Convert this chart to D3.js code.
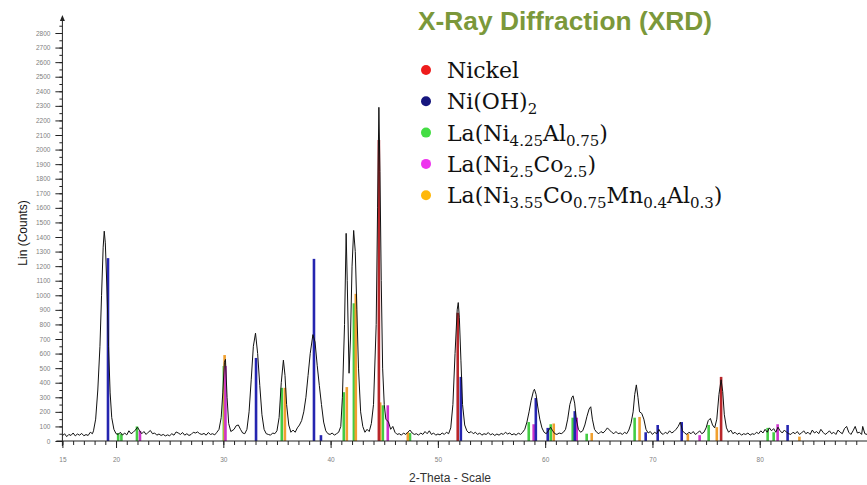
<!DOCTYPE html>
<html>
<head>
<meta charset="utf-8">
<script src="https://cdn.jsdelivr.net/npm/d3@7/dist/d3.min.js"></script>
<style>
	body { margin: 0; background: #fff; }
	svg { display: block; }
	.tick text { font-family: "Liberation Sans", Arial, sans-serif; fill: #808080; }
	.tick line { stroke: #222; }
</style>
</head>
<body>
<svg id="chart" width="867" height="485"></svg>
<script>
//measured scan: [2-theta, counts]
var scan = [
	[15.0,35],[15.2,50],[15.4,30],[15.6,45],[15.8,38],[16.0,55],[16.2,35],[16.4,48],[16.6,40],[16.8,52],
	[17.0,36],[17.2,44],[17.4,38],[17.6,60],[17.8,50],[17.9,70],[18.1,150],[18.3,350],[18.5,650],[18.65,1000],
	[18.8,1330],[18.9,1440],[19.0,1360],[19.15,1050],[19.3,650],[19.45,330],[19.6,160],[19.8,80],[20.0,50],
	[20.2,45],[20.4,60],[20.6,40],[20.8,55],[21.0,42],[21.2,70],[21.4,50],[21.6,60],[21.8,75],[22.0,95],
	[22.2,70],[22.4,50],[22.6,65],[22.8,45],[23.0,60],[23.2,72],[23.4,50],[23.6,55],[23.8,40],[24.0,48],
	[24.2,38],[24.4,45],[24.6,35],[24.8,42],[25.0,36],[25.2,50],[25.4,40],[25.6,62],[25.8,55],[26.0,45],
	[26.2,58],[26.4,40],[26.6,50],[26.8,38],[27.0,45],[27.2,60],[27.4,55],[27.6,62],[27.8,50],[28.0,45],
	[28.2,52],[28.4,40],[28.6,58],[28.8,45],[29.0,50],[29.2,42],[29.4,60],[29.6,80],[29.8,160],[29.95,330],
	[30.1,540],[30.2,560],[30.35,300],[30.5,120],[30.7,65],[31.0,80],[31.2,105],[31.4,110],[31.6,80],[31.8,55],
	[32.0,50],[32.2,80],[32.4,200],[32.6,420],[32.8,650],[33.0,740],[33.2,600],[33.4,380],[33.6,180],[33.8,80],
	[34.0,50],[34.2,45],[34.4,40],[34.6,55],[34.8,50],[35.0,70],[35.2,160],[35.4,400],[35.6,555],[35.75,450],
	[35.9,250],[36.1,110],[36.3,60],[36.5,75],[36.7,60],[36.9,90],[37.1,110],[37.3,140],[37.5,200],[37.7,300],
	[37.9,450],[38.1,600],[38.35,730],[38.55,680],[38.75,520],[38.95,380],[39.15,250],[39.35,130],[39.55,70],
	[39.75,50],[39.95,45],[40.15,55],[40.35,40],[40.55,50],[40.75,60],[40.95,100],[41.1,300],[41.3,800],
	[41.45,1425],[41.55,1100],[41.72,465],[41.85,700],[42.0,1200],[42.15,1445],[42.3,1300],[42.45,900],
	[42.6,500],[42.8,200],[43.0,100],[43.2,60],[43.4,80],[43.6,65],[43.8,120],[44.0,250],[44.25,800],
	[44.38,1600],[44.5,2290],[44.6,1850],[44.72,1100],[44.85,500],[45.0,250],[45.15,150],[45.4,130],[45.6,80],
	[45.8,100],[46.0,60],[46.2,45],[46.4,50],[46.6,40],[46.8,55],[47.0,45],[47.2,60],[47.4,75],[47.6,55],
	[47.8,45],[48.0,50],[48.2,40],[48.4,55],[48.6,45],[48.8,65],[49.0,50],[49.2,70],[49.4,45],[49.6,55],
	[49.8,40],[50.0,48],[50.2,42],[50.4,55],[50.6,45],[50.8,60],[51.0,50],[51.2,90],[51.4,250],[51.6,600],
	[51.8,900],[51.9,950],[52.0,850],[52.15,550],[52.3,250],[52.5,110],[52.7,70],[52.9,55],[53.1,65],[53.3,50],
	[53.5,60],[53.7,45],[53.9,55],[54.1,40],[54.3,50],[54.5,45],[54.7,58],[54.9,42],[55.1,50],[55.3,38],
	[55.5,48],[55.7,40],[55.9,52],[56.1,45],[56.3,60],[56.5,48],[56.7,55],[56.9,42],[57.1,50],[57.3,40],
	[57.5,55],[57.7,45],[57.9,60],[58.1,80],[58.3,130],[58.5,200],[58.7,280],[58.9,340],[59.0,355],[59.15,320],
	[59.3,240],[59.5,150],[59.7,90],[59.9,60],[60.1,50],[60.3,70],[60.5,95],[60.7,70],[60.9,50],[61.1,45],
	[61.3,55],[61.5,50],[61.7,60],[61.9,80],[62.1,150],[62.3,250],[62.5,300],[62.6,310],[62.75,260],[62.9,150],
	[63.1,80],[63.3,60],[63.5,70],[63.7,110],[63.9,170],[64.1,220],[64.25,235],[64.4,150],[64.6,80],[64.8,60],
	[65.0,50],[65.2,65],[65.4,55],[65.6,70],[65.8,90],[66.0,75],[66.2,60],[66.4,50],[66.6,65],[66.8,50],
	[67.0,55],[67.2,45],[67.4,60],[67.6,50],[67.8,75],[68.0,120],[68.2,200],[68.35,320],[68.5,385],[68.65,300],
	[68.8,200],[69.0,190],[69.2,150],[69.4,80],[69.6,55],[69.8,65],[70.0,45],[70.2,60],[70.4,50],[70.6,80],
	[70.8,55],[71.0,45],[71.2,60],[71.4,50],[71.6,70],[71.8,55],[72.0,65],[72.2,80],[72.4,100],[72.6,130],
	[72.8,70],[73.0,55],[73.2,45],[73.4,60],[73.6,50],[73.8,65],[74.0,45],[74.2,55],[74.4,70],[74.6,50],
	[74.8,60],[75.0,90],[75.2,140],[75.4,155],[75.6,110],[75.8,90],[76.0,150],[76.2,320],[76.4,420],[76.55,340],
	[76.7,180],[76.9,90],[77.1,60],[77.3,75],[77.5,50],[77.7,60],[77.9,45],[78.1,55],[78.3,40],[78.5,50],
	[78.7,45],[78.9,55],[79.1,40],[79.3,50],[79.5,45],[79.7,60],[79.9,50],[80.1,70],[80.3,55],[80.5,80],
	[80.7,60],[80.9,90],[81.1,70],[81.3,85],[81.5,60],[81.7,95],[81.9,70],[82.1,55],[82.3,75],[82.5,60],
	[82.7,50],[82.9,45],[83.1,60],[83.3,50],[83.5,65],[83.7,45],[83.9,55],[84.1,70],[84.3,50],[84.5,60],
	[84.7,45],[84.9,75],[85.1,55],[85.3,65],[85.5,50],[85.7,80],[85.9,60],[86.1,45],[86.3,55],[86.5,70],
	[86.7,50],[86.9,60],[87.1,45],[87.3,75],[87.5,60],[87.7,50],[87.9,85],[88.1,100],[88.3,60],[88.5,45],
	[88.7,70],[88.9,100],[89.1,55],[89.3,60],[89.5,45],[89.6,100],[89.8,50],[90.0,45]
];

//reference stick patterns: [2-theta, intensity]
var nickelSticks = [[44.5,2065],[51.85,880],[76.4,440]];
var niOH2Sticks = [[19.25,1255],[33.05,570],[38.45,1250],[39.1,40],[52.14,440],[59.13,295],[60.24,90],
	[62.76,205],[69.37,60],[70.49,110],[72.73,130],[82.6,110]];
var laNiAlSticks = [[20.2,55],[20.5,50],[21.95,100],[30.05,515],[35.45,365],[41.23,335],[42.17,945],
	[44.87,245],[47.4,55],[58.47,130],[60.52,115],[62.57,160],[63.87,50],[68.34,160],[75.24,110],[80.74,90],[81.3,60]];
var laNiCoSticks = [[22.23,70],[30.2,515],[45.33,245],[58.93,115],[62.94,160],[74.4,40],[81.67,115]];
var laNiCoMnAlSticks = [[30.12,590],[35.74,365],[41.51,370],[42.35,1010],[44.62,265],[47.2,60],[60.8,120],
	[64.34,55],[68.8,165],[73.3,50],[76.0,95],[83.7,30]];

var phaseColors = ["#ee1c1c", "#16167e", "#44dd44", "#ee33ee", "#ffb80a"];
var stickColors = ["#b8262a", "#2525b0", "#44cc44", "#cc33cc", "#f0a030"];
//legend labels: [text, subscript?]
var phaseLabels = [
	[["Nickel", false]],
	[["Ni(OH)", false], ["2", true]],
	[["La(Ni", false], ["4.25", true], ["Al", false], ["0.75", true], [")", false]],
	[["La(Ni", false], ["2.5", true], ["Co", false], ["2.5", true], [")", false]],
	[["La(Ni", false], ["3.55", true], ["Co", false], ["0.75", true], ["Mn", false], ["0.4", true], ["Al", false], ["0.3", true], [")", false]]
];

var xTickLabels = [15, 20, 30, 40, 50, 60, 70, 80];
var xMinorTicks = d3.range(15, 90, 1);
var yTickLabels = [0,100,200,300,400,500,600,700,800,900,1000,1100,1200,1300,1400,1500,1600,1700,1800,1900,2000,2100,2200,2300,2400,2500,2600,2700,2800];
var yMinorTicks = d3.range(0, 2851, 50);

var svg = d3.select("#chart");

var x = d3.scaleLinear().domain([15, 90]).range([62.4, 867]);
var y = d3.scaleLinear().domain([0, 2800]).range([441, 33]);

//sticks go under the scan line
var allSticks = [nickelSticks, niOH2Sticks, laNiAlSticks, laNiCoSticks, laNiCoMnAlSticks];
var drawOrder = [2, 4, 3, 1, 0];
drawOrder.forEach(function(p){
	svg.append("g").selectAll("line")
		.data(allSticks[p])
		.enter().append("line")
		.attr("x1", function(d){ return x(d[0]); })
		.attr("x2", function(d){ return x(d[0]); })
		.attr("y1", y(0))
		.attr("y2", function(d){ return y(d[1]); })
		.style("stroke", stickColors[p])
		.style("stroke-width", 2.6);
});

var line = d3.line()
	.x(function(d){ return x(d[0]); })
	.y(function(d){ return y(d[1]); });

svg.append("path")
	.datum(scan)
	.attr("d", line)
	.style("fill", "none")
	.style("stroke", "#111")
	.style("stroke-width", 1);

//x axis
svg.append("g")
	.attr("transform", "translate(0," + y(0) + ")")
	.call(d3.axisBottom(x).tickValues(xMinorTicks).tickSize(4).tickFormat(""))
	.call(function(g){ g.select(".domain").remove(); });
svg.append("g")
	.attr("transform", "translate(0," + y(0) + ")")
	.call(d3.axisBottom(x).tickValues(xTickLabels).tickSize(7).tickPadding(9).tickFormat(d3.format("d")))
	.call(function(g){ g.select(".domain").remove(); })
	.selectAll("text").style("font-size", "6.5px");
svg.append("line")
	.attr("x1", x(15) - 6).attr("x2", 867)
	.attr("y1", y(0)).attr("y2", y(0))
	.style("stroke", "#222");

//y axis
svg.append("g")
	.attr("transform", "translate(" + x(15) + ",0)")
	.call(d3.axisLeft(y).tickValues(yMinorTicks).tickSize(3).tickFormat(""))
	.call(function(g){ g.select(".domain").remove(); });
svg.append("g")
	.attr("transform", "translate(" + x(15) + ",0)")
	.call(d3.axisLeft(y).tickValues(yTickLabels).tickSize(7).tickPadding(5).tickFormat(d3.format("d")))
	.call(function(g){ g.select(".domain").remove(); })
	.selectAll("text").style("font-size", "6.5px");
svg.append("line")
	.attr("x1", x(15)).attr("x2", x(15))
	.attr("y1", y(0) + 5).attr("y2", 18)
	.style("stroke", "#222");
svg.append("path")
	.attr("d", "M" + x(15) + ",15 l-2.5,6 l5,0 z")
	.style("fill", "#222");

//axis titles
svg.append("text")
	.attr("x", 450).attr("y", 482)
	.attr("text-anchor", "middle")
	.style("font-family", "Liberation Sans, Arial, sans-serif")
	.style("font-size", "12px")
	.style("fill", "#333")
	.text("2-Theta - Scale");
svg.append("text")
	.attr("transform", "translate(27,233) rotate(-90)")
	.attr("text-anchor", "middle")
	.style("font-family", "Liberation Sans, Arial, sans-serif")
	.style("font-size", "12px")
	.style("fill", "#111")
	.text("Lin (Counts)");

//title
svg.append("text")
	.attr("x", 418).attr("y", 30)
	.attr("textLength", 294)
	.attr("lengthAdjust", "spacingAndGlyphs")
	.style("font-family", "Liberation Sans Narrow, Liberation Sans, Arial, sans-serif")
	.style("font-weight", "bold")
	.style("font-size", "26px")
	.style("fill", "#7b983a")
	.text("X-Ray Diffraction (XRD)");

//legend
var legend = svg.append("g").selectAll("g")
	.data(phaseLabels)
	.enter().append("g")
	.attr("transform", function(d, i){ return "translate(426," + (70 + i * 31.3) + ")"; });
legend.append("circle")
	.attr("r", 5)
	.style("fill", function(d, i){ return phaseColors[i]; });
legend.append("text")
	.attr("x", 21).attr("y", 8)
	.style("font-family", "DejaVu Serif, Liberation Serif, serif")
	.style("font-size", "22px")
	.style("fill", "#111")
	.selectAll("tspan")
	.data(function(d){ return d; })
	.enter().append("tspan")
	.attr("dy", function(d, i, nodes){
		var prevSub = i > 0 && d3.select(nodes[i - 1]).datum()[1];
		if(d[1] && !prevSub) return 5;
		if(!d[1] && prevSub) return -5;
		return 0;
	})
	.style("font-size", function(d){ return d[1] ? "15px" : null; })
	.text(function(d){ return d[0]; });
</script>
</body>
</html>
